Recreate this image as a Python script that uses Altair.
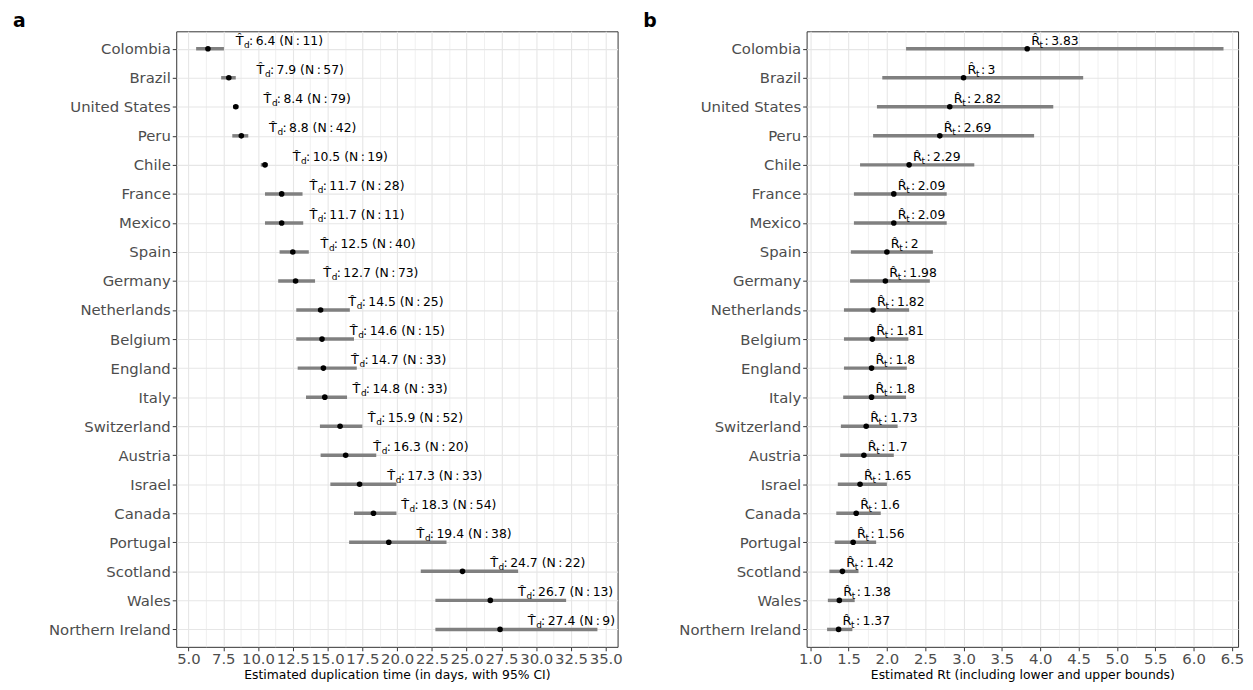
import altair as alt
import pandas as pd

countries = ["Colombia", "Brazil", "United States", "Peru", "Chile", "France", "Mexico",
             "Spain", "Germany", "Netherlands", "Belgium", "England", "Italy", "Switzerland",
             "Austria", "Israel", "Canada", "Portugal", "Scotland", "Wales", "Northern Ireland"]

# Panel a: duplication time (days) with 95% CI
td = [6.4, 7.9, 8.4, 8.8, 10.5, 11.7, 11.7, 12.5, 12.7, 14.5, 14.6, 14.7, 14.8, 15.9,
      16.3, 17.3, 18.3, 19.4, 24.7, 26.7, 27.4]
td_n = [11, 57, 79, 42, 19, 28, 11, 40, 73, 25, 15, 33, 33, 52, 20, 33, 54, 38, 22, 13, 9]
td_lo = [5.55, 7.35, 8.2, 8.15, 10.2, 10.5, 10.5, 11.55, 11.45, 12.75, 12.75, 12.85, 13.45,
         14.45, 14.5, 15.2, 16.9, 16.55, 21.7, 22.75, 22.75]
td_hi = [7.55, 8.4, 8.6, 9.3, 10.7, 13.2, 13.25, 13.65, 14.1, 16.6, 16.9, 17.1, 16.4,
         17.5, 18.5, 19.95, 19.95, 23.55, 28.7, 32.15, 34.4]

# Panel b: estimated Rt with lower / upper bounds
rt = [3.83, 3, 2.82, 2.69, 2.29, 2.09, 2.09, 2, 1.98, 1.82, 1.81, 1.8, 1.8, 1.73,
      1.7, 1.65, 1.6, 1.56, 1.42, 1.38, 1.37]
rt_lo = [2.25, 1.94, 1.87, 1.82, 1.65, 1.57, 1.57, 1.53, 1.52, 1.44, 1.44, 1.44, 1.43,
         1.40, 1.39, 1.36, 1.34, 1.32, 1.25, 1.23, 1.22]
rt_hi = [6.39, 4.56, 4.17, 3.92, 3.14, 2.78, 2.78, 2.60, 2.56, 2.29, 2.28, 2.26, 2.25,
         2.14, 2.09, 2.00, 1.92, 1.86, 1.63, 1.58, 1.55]

TS = "\u2009"
td_labels = [f"{TS}:{TS}{v:.1f} (N{TS}:{TS}{n})" for v, n in zip(td, td_n)]
rt_labels = [f"{TS}:{TS}{v:g}" for v in rt]

df_a = pd.DataFrame({"country": countries, "est": td, "lo": td_lo, "hi": td_hi, "lab": td_labels})
df_b = pd.DataFrame({"country": countries, "est": rt, "lo": rt_lo, "hi": rt_hi, "lab": rt_labels})

FONT = "DejaVu Sans"
GRID = "#E6E6E6"


def steps(a, b, s):
    out = []
    v = a
    while v <= b + 1e-9:
        out.append(round(v, 4))
        v += s
    return out


def panel(df, domain, vals, major, hat, sub, dx0, width, letter, xtitle):
    test = f"abs(datum.value / {major} - round(datum.value / {major})) < 1e-6"
    xaxis = alt.Axis(
        values=vals,
        labelExpr=f"({test}) ? format(datum.value, '.1f') : ''",
        tickOpacity={"condition": {"test": test, "value": 1}, "value": 0},
        gridWidth={"condition": {"test": test, "value": 1.1}, "value": 0.6},
        grid=True,
        gridColor=GRID,
        labelFontSize=15, labelColor="#4d4d4d", labelPadding=1,
        labelOverlap=False, labelFlush=False,
        tickColor="#333333", tickSize=4, domain=False,
        title=xtitle, titleFontSize=12.5, titleColor="black",
        titleFontWeight="normal", titlePadding=2,
    )
    xscale = alt.Scale(domain=domain, nice=False, zero=False)

    def X(field):
        return alt.X(field, type="quantitative", scale=xscale, axis=xaxis, title=xtitle)

    y = alt.Y("country:N", sort=countries,
              scale=alt.Scale(type="point", padding=0.6),
              axis=alt.Axis(title=None, labelFontSize=15, labelColor="#4d4d4d",
                            labelPadding=2, tickColor="#333333", tickSize=4,
                            domain=False, grid=True, gridColor=GRID, gridWidth=1.1,
                            minExtent=169, maxExtent=169))
    base = alt.Chart(df)
    rule = base.mark_rule(color="#808080", strokeWidth=3.5).encode(
        x=X("lo"), x2="hi:Q", y=y)
    pts = base.mark_circle(color="black", size=32, opacity=1).encode(x=X("est"), y=y)
    t_hat = base.mark_text(align="left", baseline="middle", dx=dx0, dy=-8,
                           fontSize=13, color="black").encode(
        x=X("est"), y=y, text=alt.value(hat))
    t_sub = base.mark_text(align="left", baseline="middle", dx=dx0 + 8.5, dy=-4,
                           fontSize=9, color="black").encode(
        x=X("est"), y=y, text=alt.value(sub))
    t_lab = base.mark_text(align="left", baseline="middle", dx=dx0 + 13.5, dy=-8,
                           fontSize=12.5, color="black").encode(
        x=X("est"), y=y, text="lab:N")
    return alt.layer(rule, pts, t_hat, t_sub, t_lab).properties(
        width=width, height=622,
        title=alt.TitleParams(letter, anchor="start", frame="bounds", fontSize=19,
                              fontWeight="bold", color="black", offset=3, dx=4, dy=3),
    )


left = panel(df_a, [4.12, 35.85], steps(5, 35, 1.25), 2.5, "T\u0302", "d", 28, 446, "a",
             "Estimated duplication time (in days, with 95% CI)")
right = panel(df_b, [0.953, 6.58], steps(1.0, 6.5, 0.25), 0.5, "R\u0302", "t", 4, 436, "b",
              "Estimated Rt (including lower and upper bounds)")

chart = alt.hconcat(left, right, spacing=15).properties(padding=0).configure(
    font=FONT).configure_view(stroke="#333333", strokeWidth=1)

chart.save("out.html", embed_options={"renderer": "svg", "actions": False})
